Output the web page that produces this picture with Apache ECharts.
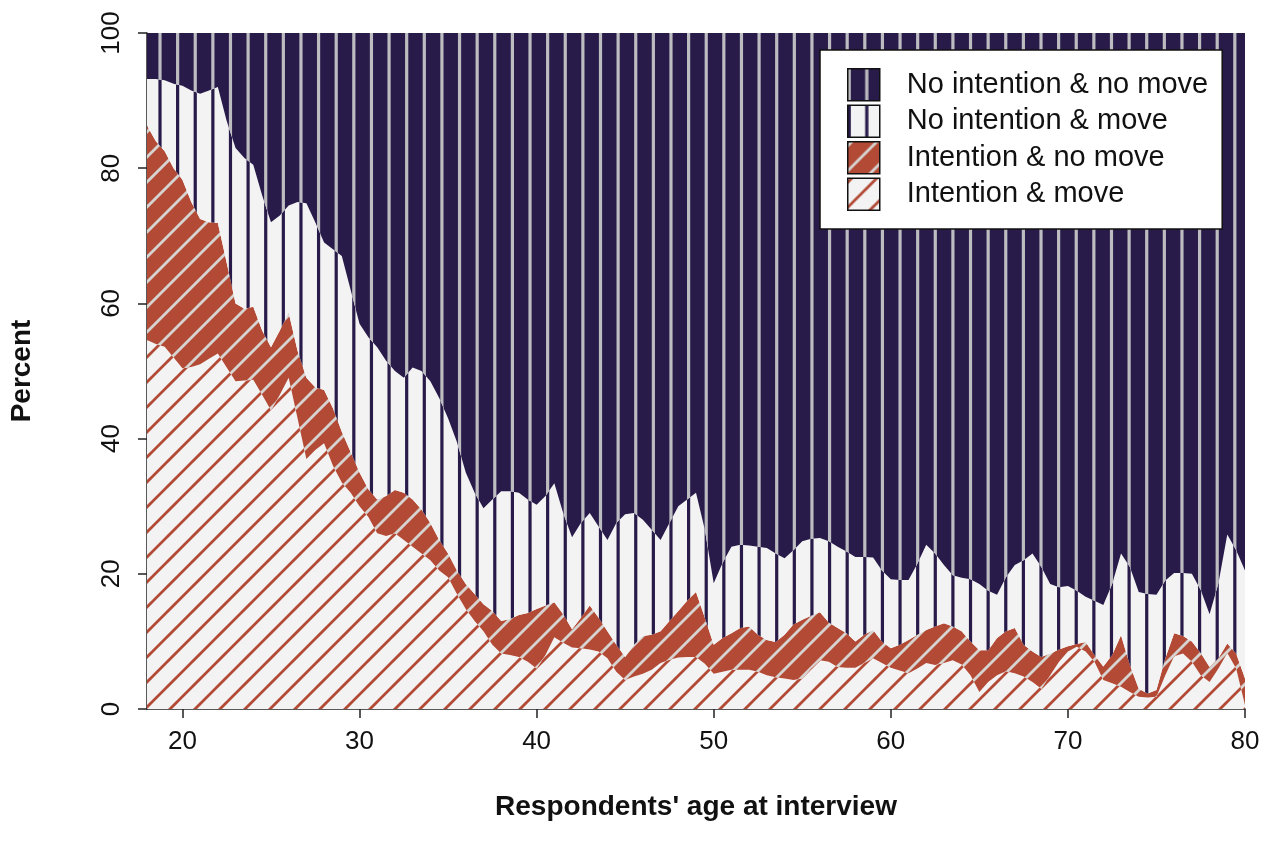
<!DOCTYPE html>
<html>
<head>
<meta charset="utf-8">
<script src="https://cdn.jsdelivr.net/npm/echarts@6/dist/echarts.min.js"></script>
<style>
html,body{margin:0;padding:0;background:#fff;}
#chart{width:1271px;height:852px;}
</style>
</head>
<body>
<div id="chart"></div>
<script>
// Respondents' age (half-year steps)
const ages = [18,18.5,19,19.5,20,20.5,21,21.5,22,22.5,23,23.5,24,24.5,25,25.5,26,26.5,27,27.5,28,28.5,29,29.5,30,30.5,31,31.5,32,32.5,33,33.5,34,34.5,35,35.5,36,36.5,37,37.5,38,38.5,39,39.5,40,40.5,41,41.5,42,42.5,43,43.5,44,44.5,45,45.5,46,46.5,47,47.5,48,48.5,49,49.5,50,50.5,51,51.5,52,52.5,53,53.5,54,54.5,55,55.5,56,56.5,57,57.5,58,58.5,59,59.5,60,60.5,61,61.5,62,62.5,63,63.5,64,64.5,65,65.5,66,66.5,67,67.5,68,68.5,69,69.5,70,70.5,71,71.5,72,72.5,73,73.5,74,74.5,75,75.5,76,76.5,77,77.5,78,78.5,79,79.5,80];

// Upper edge (cumulative percent) of "Intention & move"
const topIntentionMove = [54.6,54,53.6,52,50.4,50.6,51,51.8,52.6,50.5,48.5,48.6,48.7,46.5,44.2,46.5,49,43,37,38.3,39.3,36,33.5,32,30,28.4,26,25.6,26,25,24,23,22,20.5,19.5,17,14.8,13,11.5,9.5,8.2,8,7.7,7,6,8,10.6,9.8,9.1,9,8.8,8.5,7.5,5.5,4.3,4.8,5.2,5.8,6.8,7.3,7.6,7.7,7.7,6.7,5.2,5.5,5.8,5.8,5.8,5.5,5,4.7,4.5,4.3,4.5,6,7.2,7,6.2,6.1,6.1,6.8,7.5,6.8,6.1,5.7,5.3,6,6.8,6.5,6.8,7.2,6.6,5,2.5,4,5,5.6,5.3,4.8,4,3,5,7,8.5,9.2,8.5,7,4.3,3.8,3.3,2.5,1.8,1.7,1.8,5,7.8,8.2,7,5,4,6,8.3,6,0.6];

// Upper edge (cumulative percent) of "Intention & no move"
const topIntentionNoMove = [86.3,84,82.5,80,78.3,75,72.5,72,71.9,66,60,59.2,59.5,56,53.5,56,58.6,53,49,47.6,47.2,44.5,41,38,35,32.5,31,31.5,32.4,32,31,29.5,27.5,25,23,20.5,18.5,17,15.5,14.5,13,13.3,13.9,14.2,14.8,15.3,15.8,14,11.8,13.5,15.3,13.5,11.5,9.5,7.7,9.5,10.8,11,11.5,13,14.5,16,17.3,13.5,9.5,10.5,11.2,12,12.2,11,10.2,9.9,11,12.5,13.2,13.8,14.3,12.8,12,11.2,10,11,11.7,10,9,9.5,10.2,11,11.7,12.2,12.7,12.2,11.5,10,8.7,8.7,10.5,11.5,12,9.5,8.5,7.7,8.2,8.8,9.3,9.6,9.9,8,6.3,8,10.9,6.5,3,2.3,2.8,7.5,11.2,10.8,10,8.3,6.2,7.5,9.7,8.2,4.5];

// Upper edge (cumulative percent) of "No intention & move"
const topNoIntentionMove = [93.2,93.2,93,92.5,92.2,91.5,91,91.5,92,87,83,81.5,80.5,76,72,73,74.5,75,74.8,72,69,68,67,62,57,55,53.5,51.5,50,49,50.5,50,48.5,46,43,39.5,35,32,29.7,31,32.2,32.2,32,31,30.2,31.5,33.4,29,25.4,27.5,29,27,25,27.5,28.8,29,28,26.5,25,27.5,30,31,32,26.5,18.6,21.6,24,24.3,24.2,24,23.8,23,22.3,23.5,24.8,25.2,25.3,24.8,24,23.3,22.5,22.5,22.4,20.5,19.2,19.1,19.1,21.5,24.3,23,21.3,19.8,19.4,19.2,18.5,17.5,16.9,19.5,21.3,22,23,21,18.5,18,18.2,17.5,16.6,16,15.4,18.5,23,21,17.3,17,16.9,19,20.1,20.1,20,17.6,14,18.6,25.8,23.5,20.5];

const seriesNames = ['No intention & no move','No intention & move','Intention & no move','Intention & move'];
const xTickValues = [20,30,40,50,60,70,80];

// ---- fill patterns ----
const NAVY = '#281b49', STRIPE_GRAY = '#bdbcc0', OFFWHITE = '#f3f3f3', RED = '#b24a36', HATCH_GRAY = '#d6d3d0';
function stripes(bg, fg, lw) {
  const c = document.createElement('canvas');
  c.width = 1271; c.height = 4;
  const g = c.getContext('2d');
  g.fillStyle = bg; g.fillRect(0, 0, c.width, c.height);
  g.fillStyle = fg;
  const period = 17.62, start = 160 - period * 9;
  for (let x = start; x < c.width + period; x += period) g.fillRect(x - lw / 2, 0, lw, c.height);
  return { image: c, repeat: 'repeat' };
}
function hatch(bg, fg, lw) {
  const s = 25;
  const c = document.createElement('canvas');
  c.width = s; c.height = s;
  const g = c.getContext('2d');
  g.fillStyle = bg; g.fillRect(0, 0, s, s);
  g.strokeStyle = fg; g.lineWidth = lw;
  for (let k = -2; k <= 3; k++) {
    const c0 = 4 + s * k;
    g.beginPath(); g.moveTo(c0 + 20, -20); g.lineTo(c0 - 40, 40); g.stroke();
  }
  return { image: c, repeat: 'repeat' };
}
const fills = {
  'No intention & no move': stripes(NAVY, STRIPE_GRAY, 3.2),
  'No intention & move': stripes(OFFWHITE, NAVY, 3.2),
  'Intention & no move': hatch(RED, HATCH_GRAY, 2.8),
  'Intention & move': hatch(OFFWHITE, RED, 2.7)
};

// shares of each band, built from the read-off upper edges
const shares = {
  'Intention & move': topIntentionMove.slice(),
  'Intention & no move': topIntentionNoMove.map((v, i) => +(v - topIntentionMove[i]).toFixed(2)),
  'No intention & move': topNoIntentionMove.map((v, i) => +(v - topIntentionNoMove[i]).toFixed(2)),
  'No intention & no move': topNoIntentionMove.map(v => +(100 - v).toFixed(2))
};
const stackOrder = ['Intention & move','Intention & no move','No intention & move','No intention & no move'];
const isTick = (idx, val) => xTickValues.indexOf(Number(val)) >= 0;

const FONT = '"Liberation Sans", Arial, Helvetica, sans-serif';
const chart = echarts.init(document.getElementById('chart'), null, { renderer: 'canvas' });
chart.setOption({
  animation: false,
  backgroundColor: '#ffffff',
  grid: { left: 145, right: 26, top: 33, bottom: 143, containLabel: false },
  xAxis: {
    type: 'category', boundaryGap: false,
    data: ages.map(String),
    name: "Respondents' age at interview", nameLocation: 'middle', nameGap: 84,
    nameTextStyle: { fontFamily: FONT, fontSize: 28, fontWeight: 'bold', color: '#111' },
    axisLine: { show: true, onZero: false, lineStyle: { color: '#222', width: 1.5 } },
    axisTick: { show: true, length: 9, interval: isTick, lineStyle: { color: '#222', width: 1.5 } },
    axisLabel: { fontFamily: FONT, fontSize: 26, color: '#111', margin: 20, interval: isTick },
    splitLine: { show: false }
  },
  yAxis: {
    type: 'value', min: 0, max: 100, interval: 20,
    name: 'Percent', nameLocation: 'middle', nameGap: 111, nameRotate: 90,
    nameTextStyle: { fontFamily: FONT, fontSize: 28, fontWeight: 'bold', color: '#111' },
    axisLine: { show: true, lineStyle: { color: '#222', width: 1.5 } },
    axisTick: { show: true, length: 9, lineStyle: { color: '#222', width: 1.5 } },
    axisLabel: { fontFamily: FONT, fontSize: 26, color: '#111', margin: 22, rotate: 90 },
    splitLine: { show: false }
  },
  legend: {
    orient: 'vertical', left: 820, top: 50,
    padding: [18, 14, 18, 27],
    itemWidth: 32, itemHeight: 32, itemGap: 3,
    backgroundColor: '#ffffff', borderColor: '#111', borderWidth: 1.5, borderRadius: 0,
    icon: 'rect',
    selectedMode: false,
    textStyle: { fontFamily: FONT, fontSize: 29, color: '#111', padding: [0, 0, 0, 22] },
    data: seriesNames.map(n => ({ name: n, icon: 'rect', itemStyle: { color: fills[n], borderColor: '#111', borderWidth: 1.5 } }))
  },
  series: stackOrder.map(n => ({
    name: n, type: 'line', stack: 'all',
    symbol: 'none', showSymbol: false, smooth: false,
    lineStyle: { width: 0, opacity: 0 },
    itemStyle: { color: fills[n] },
    areaStyle: { color: fills[n], opacity: 1 },
    emphasis: { disabled: true },
    data: shares[n]
  }))
});
</script>
</body>
</html>
